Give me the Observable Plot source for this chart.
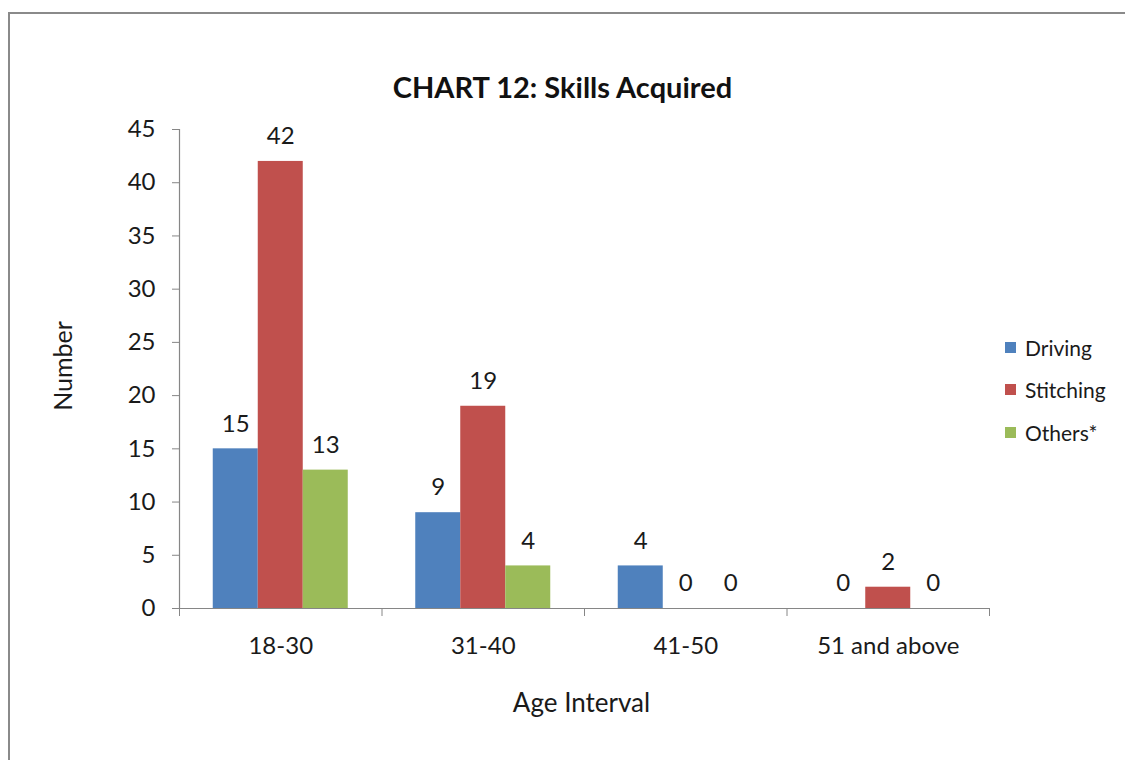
<!DOCTYPE html>
<html>
<head>
<meta charset="utf-8">
<script src="https://cdn.jsdelivr.net/npm/d3@7"></script>
<script src="https://cdn.jsdelivr.net/npm/@observablehq/plot@0.6"></script>
<style>
  html, body { margin: 0; padding: 0; background: #fff; }
  body { font-family: Lato, "Open Sans", sans-serif; color: #1a1a1a; }
  #wrap { position: relative; width: 1125px; height: 760px; overflow: hidden; }
  #border { position: absolute; left: 8px; top: 12px; width: 1130px; height: 760px;
            border-top: 2px solid #8a8a8a; border-left: 2px solid #8a8a8a; }
  #chart { position: absolute; left: 0; top: 0; }
  #title { position: absolute; left: 0; top: 69px; width: 1125px; text-align: center;
           font-weight: bold; font-size: 29px; color: #111; }
  #legend { position: absolute; left: 1005px; top: 326px; font-size: 21px; }
  .item { display: flex; align-items: center; height: 42.5px; }
  .sw { width: 11px; height: 11px; margin-right: 9px; }
</style>
</head>
<body>
<div id="wrap">
  <div id="border"></div>
  <div id="chart"></div>
  <div id="title">CHART 12: Skills Acquired</div>
  <div id="legend"></div>
</div>
<script>
const ages = ["18-30", "31-40", "41-50", "51 and above"];
const series = ["Driving", "Stitching", "Others*"];
const driving = [15, 9, 4, 0];
const stitching = [42, 19, 0, 2];
const others = [13, 4, 0, 0];
const colors = ["#4F81BD", "#C0504D", "#9BBB59"];
const yTicks = [0, 5, 10, 15, 20, 25, 30, 35, 40, 45];
const yLabel = "Number";
const xLabel = "Age Interval";

// Excel-style clustered columns: gap width 150% of a bar
const gapWidth = 1.5;
const barW = 1 / (series.length + gapWidth);
const offset = (gapWidth * barW) / 2;

const rows = [];
ages.forEach((age, i) => {
  [driving, stitching, others].forEach((vals, j) => {
    const x1 = i + offset + j * barW;
    rows.push({age, series: series[j], value: vals[i], x1, x2: x1 + barW, xc: x1 + barW / 2});
  });
});

const grey = "#868686";
const chart = Plot.plot({
  width: 1125,
  height: 760,
  marginLeft: 179,
  marginRight: 136,
  marginTop: 129,
  marginBottom: 152,
  style: { fontFamily: "Lato, 'Open Sans', sans-serif", fontSize: "24px", background: "transparent", color: "#1a1a1a" },
  x: { domain: [0, ages.length] },
  y: { domain: [0, 45] },
  color: { domain: series, range: colors },
  marks: [
    Plot.rectY(rows, { x1: "x1", x2: "x2", y: "value", fill: "series" }),
    Plot.ruleY([0], { stroke: grey, strokeWidth: 1.2 }),
    Plot.ruleX([0], { y1: 0, y2: 45, stroke: grey, strokeWidth: 1.2 }),
    Plot.axisY({ ticks: yTicks, tickSize: 7, tickPadding: 17, stroke: grey, fill: "#1a1a1a", label: null, fontSize: 24 }),
    Plot.axisX({ ticks: d3.range(ages.length + 1), tickSize: 8, tickFormat: () => "", stroke: grey, label: null }),
    Plot.axisX({ ticks: ages.map((a, i) => i + 0.5), tickSize: 0, tickPadding: 28,
                 tickFormat: v => ages[Math.floor(v)], fill: "#1a1a1a", label: null, fontSize: 24 }),
    Plot.text(rows, { x: "xc", y: "value", text: d => String(d.value), dy: -25, lineAnchor: "middle", fill: "#1a1a1a", fontSize: 24 }),
    Plot.text([yLabel], { text: d => d, frameAnchor: "left", dx: -116, dy: -3, rotate: -90, textAnchor: "middle", lineAnchor: "middle", fontSize: 25, fill: "#1a1a1a" }),
    Plot.text([xLabel], { text: d => d, frameAnchor: "bottom", dx: -3, dy: 95, lineAnchor: "middle", fontSize: 26, fill: "#1a1a1a" })
  ]
});
document.getElementById("chart").appendChild(chart);

const legend = document.getElementById("legend");
series.forEach((s, j) => {
  const item = document.createElement("div");
  item.className = "item";
  const sw = document.createElement("div");
  sw.className = "sw";
  sw.style.background = colors[j];
  const t = document.createElement("span");
  t.textContent = s;
  item.appendChild(sw);
  item.appendChild(t);
  legend.appendChild(item);
});
</script>
</body>
</html>
